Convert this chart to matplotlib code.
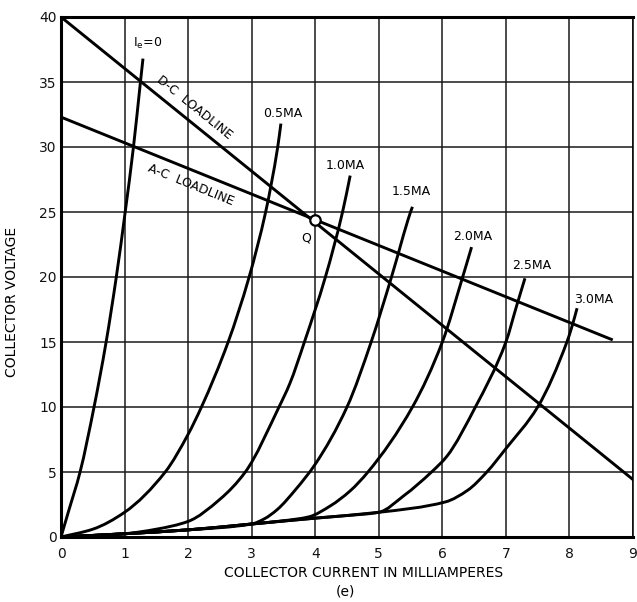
import numpy as np
import matplotlib
matplotlib.use("Agg")
import matplotlib.pyplot as plt
from matplotlib.path import Path
from matplotlib.patches import PathPatch

# collector characteristics: x = collector current (mA), y = collector voltage
ie00_x = [0, 0.12, 0.30, 0.52, 0.71, 0.87, 1.01, 1.14, 1.25, 1.29]
ie00_y = [0, 2, 5, 10, 15, 20, 25, 30, 35, 36.8]

ie05_x = [0, 0.5, 1.0, 1.64, 2.0, 2.21, 2.63, 2.96, 3.22, 3.31, 3.41, 3.46]
ie05_y = [0, 0.6, 1.9, 5, 7.9, 10, 15, 20, 25, 27.2, 30, 31.8]

ie10_x = [0, 1.0, 1.5, 2.0, 2.5, 2.9, 3.43, 3.6, 3.83, 4.16, 4.43, 4.55]
ie10_y = [0, 0.25, 0.6, 1.2, 2.9, 5, 10, 11.8, 15, 20, 25, 27.8]

ie15_x = [0, 1, 2, 3, 3.2, 3.4, 3.7, 4.0, 4.5, 4.88, 5.2, 5.5, 5.53]
ie15_y = [0, 0.25, 0.55, 1.0, 1.4, 2.1, 3.7, 5.6, 10, 15, 20, 25, 25.4]

ie20_x = [0, 1, 2, 3, 3.5, 3.9, 4.24, 4.55, 4.83, 5.53, 6.0, 6.32, 6.46]
ie20_y = [0, 0.25, 0.55, 1.0, 1.25, 1.55, 2.4, 3.55, 5, 10, 15, 20, 22.3]

ie25_x = [0, 1, 2, 3, 4, 4.5, 5.0, 5.4, 5.83, 6.07, 6.52, 7.0, 7.17, 7.30]
ie25_y = [0, 0.25, 0.55, 1.0, 1.45, 1.65, 1.9, 3.2, 5, 6.2, 10, 15, 17.8, 19.9]

ie30_x = [0, 1, 2, 3, 4, 5, 6.05, 6.4, 6.7, 7.0, 7.5, 7.96, 8.04, 8.12]
ie30_y = [0, 0.25, 0.55, 1.0, 1.45, 1.9, 2.7, 3.6, 5, 6.8, 10, 15, 16.2, 17.6]

curves_x = [ie00_x, ie05_x, ie10_x, ie15_x, ie20_x, ie25_x, ie30_x]
curves_y = [ie00_y, ie05_y, ie10_y, ie15_y, ie20_y, ie25_y, ie30_y]

curve_labels = [r"I$_{\mathregular{e}}$=0", "0.5MA", "1.0MA", "1.5MA", "2.0MA", "2.5MA", "3.0MA"]
label_x = [1.14, 3.18, 4.16, 5.2, 6.17, 7.1, 8.07]
label_y = [38.0, 32.6, 28.6, 26.6, 23.1, 20.9, 18.3]

# load lines and operating point
dc_x = [0, 9.03]
dc_y = [40, 4.3]
ac_x = [0, 8.66]
ac_y = [32.3, 15.2]
q_x, q_y = 4.0, 24.35

xticks = list(range(0, 10))
yticks = list(range(0, 41, 5))


def smooth_path(xs, ys):
    # monotone cubic (fritsch-carlson) through the read points, as bezier segments
    x = np.asarray(xs, float)
    y = np.asarray(ys, float)
    h = np.diff(x)
    d = np.diff(y) / h
    m = np.zeros_like(x)
    m[0], m[-1] = d[0], d[-1]
    for i in range(1, len(x) - 1):
        if d[i - 1] * d[i] > 0:
            w1 = 2 * h[i] + h[i - 1]
            w2 = h[i] + 2 * h[i - 1]
            m[i] = (w1 + w2) / (w1 / d[i - 1] + w2 / d[i])
    verts = [(x[0], y[0])]
    codes = [Path.MOVETO]
    for i in range(len(h)):
        verts += [(x[i] + h[i] / 3, y[i] + m[i] * h[i] / 3),
                  (x[i + 1] - h[i] / 3, y[i + 1] - m[i + 1] * h[i] / 3),
                  (x[i + 1], y[i + 1])]
        codes += [Path.CURVE4] * 3
    return Path(verts, codes)


fig = plt.figure(figsize=(6.37, 6.02), dpi=100)
ax = fig.add_axes([61/637, 65/602, 572/637, 520/602])

ax.set_xlim(0, 9)
ax.set_ylim(0, 40)
ax.set_xticks(xticks)
ax.set_yticks(yticks)
ax.tick_params(length=0, labelsize=10, colors="#111")
ax.tick_params(axis="x", pad=7)
ax.tick_params(axis="y", pad=3)
ax.grid(True, color="#1a1a1a", lw=1.1)
ax.set_axisbelow(True)
for side in ["left", "top", "bottom"]:
    ax.spines[side].set_linewidth(2.2)
ax.spines["right"].set_linewidth(1.1)

for xs, ys in zip(curves_x, curves_y):
    ax.add_patch(PathPatch(smooth_path(xs, ys), fill=False, ec="black", lw=2.1, capstyle="butt"))

for s, x, y in zip(curve_labels, label_x, label_y):
    ax.text(x, y, s, fontsize=9, ha="left", va="center", color="black")

ax.plot(dc_x, dc_y, color="black", lw=2.1)
ax.plot(ac_x, ac_y, color="black", lw=2.1)
ax.plot([q_x], [q_y], "o", ms=7.5, mfc="white", mec="black", mew=1.6, zorder=5)
ax.text(3.85, 23.0, "Q", fontsize=9, ha="center", va="center")

ang_dc = np.degrees(np.arctan2(dc_y[1] - dc_y[0], dc_x[1] - dc_x[0]))
ang_ac = np.degrees(np.arctan2(ac_y[1] - ac_y[0], ac_x[1] - ac_x[0]))
ax.text(2.1, 33.0, "D-C  LOADLINE", fontsize=9, rotation=ang_dc,
        transform_rotates_text=True, rotation_mode="anchor", ha="center", va="center")
ax.text(2.05, 27.1, "A-C  LOADLINE", fontsize=9, rotation=ang_ac,
        transform_rotates_text=True, rotation_mode="anchor", ha="center", va="center")

ax.set_xlabel("COLLECTOR CURRENT IN MILLIAMPERES", fontsize=10, va="center")
ax.xaxis.set_label_coords(0.529, -0.069)
ax.set_ylabel("COLLECTOR VOLTAGE", fontsize=10, va="center")
ax.yaxis.set_label_coords(-0.085, 0.453)
ax.text(0.497, -0.104, "(e)", fontsize=10, ha="center", va="center", transform=ax.transAxes)

fig.savefig("out.png", dpi=100)
